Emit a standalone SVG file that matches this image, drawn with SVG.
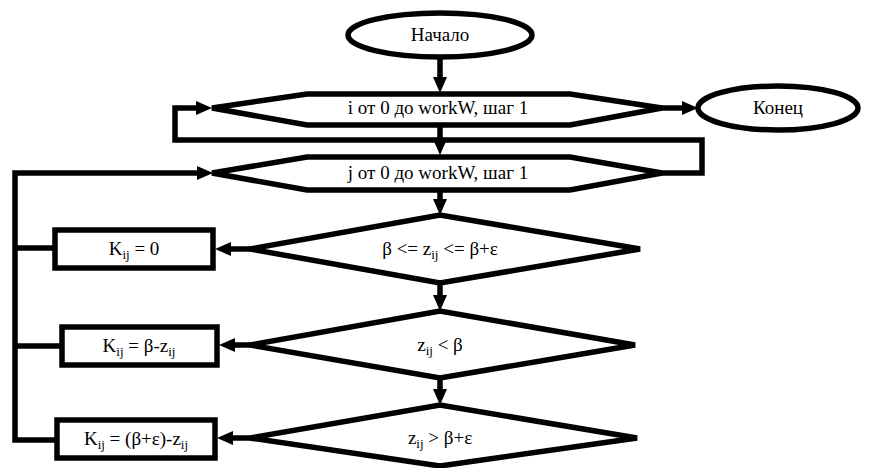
<svg xmlns="http://www.w3.org/2000/svg" width="870" height="468" viewBox="0 0 870 468">
<style>
.s{fill:#fff;stroke:#000;stroke-width:5.5;stroke-linejoin:miter}
.c{fill:none;stroke:#000;stroke-width:5.5}
.sub{font-size:13px}
</style>
<defs>
<marker id="ah" markerUnits="userSpaceOnUse" markerWidth="16" markerHeight="14" refX="4" refY="7" orient="auto">
<path d="M0,0 L16,7 L0,14 z" fill="#000"/>
</marker>
</defs>
<rect width="870" height="468" fill="#fff"/>
<g id="connectors">
<path class="c" d="M440,57 V81" marker-end="url(#ah)"/>
<path class="c" d="M662,108 H686" marker-end="url(#ah)"/>
<path class="c" d="M440,125 V143" marker-end="url(#ah)"/>
<path class="c" d="M662,173 H702 V140 H175 V108 H200" marker-end="url(#ah)"/>
<path class="c" d="M57,440 H15 V173 H201" marker-end="url(#ah)"/>
<path class="c" d="M55,248 H15"/>
<path class="c" d="M62,346 H15"/>
<path class="c" d="M440,190 V203" marker-end="url(#ah)"/>
<path class="c" d="M250,249 H227" marker-end="url(#ah)"/>
<path class="c" d="M440,283 V299" marker-end="url(#ah)"/>
<path class="c" d="M250,345 H231" marker-end="url(#ah)"/>
<path class="c" d="M440,378 V393" marker-end="url(#ah)"/>
<path class="c" d="M250,438 H229" marker-end="url(#ah)"/>
</g>
<g font-family="Liberation Serif, Tinos, Times New Roman, DejaVu Serif, serif" font-size="19" text-anchor="middle" fill="#000">
<g id="start">
<ellipse class="s" cx="440" cy="35" rx="92" ry="22"/>
<text x="440" y="41">Начало</text>
</g>
<g id="loop-i">
<polygon class="s" points="212,108 307,94 570,94 662,108 570,125 307,125"/>
<text x="438" y="114">i от 0 до workW, шаг 1</text>
</g>
<g id="end">
<ellipse class="s" cx="778" cy="108" rx="80" ry="22"/>
<text x="778" y="114">Конец</text>
</g>
<g id="loop-j">
<polygon class="s" points="212,173 307,157 570,157 662,173 570,190 307,190"/>
<text x="438" y="179">j от 0 до workW, шаг 1</text>
</g>
<g id="cond1">
<polygon class="s" points="250,249 440,215 640,249 440,283"/>
<text x="440" y="255">β &lt;= z<tspan class="sub" dy="4">ij</tspan><tspan dy="-4"> &lt;= β+ε</tspan></text>
</g>
<g id="cond2">
<polygon class="s" points="250,345 440,311 635,345 440,378"/>
<text x="440" y="351">z<tspan class="sub" dy="4">ij</tspan><tspan dy="-4"> &lt; β</tspan></text>
</g>
<g id="cond3">
<polygon class="s" points="250,438 440,405 637,438 440,466"/>
<text x="440" y="444">z<tspan class="sub" dy="4">ij</tspan><tspan dy="-4"> &gt; β+ε</tspan></text>
</g>
<g id="box1">
<rect class="s" x="55" y="230" width="158" height="38"/>
<text x="134" y="255">K<tspan class="sub" dy="4">ij</tspan><tspan dy="-4"> = 0</tspan></text>
</g>
<g id="box2">
<rect class="s" x="62" y="327" width="155" height="38"/>
<text x="139" y="352">K<tspan class="sub" dy="4">ij</tspan><tspan dy="-4"> = β-z</tspan><tspan class="sub" dy="4">ij</tspan></text>
</g>
<g id="box3">
<rect class="s" x="57" y="420" width="158" height="38"/>
<text x="136" y="445">K<tspan class="sub" dy="4">ij</tspan><tspan dy="-4"> = (β+ε)-z</tspan><tspan class="sub" dy="4">ij</tspan></text>
</g>
</g>
</svg>
